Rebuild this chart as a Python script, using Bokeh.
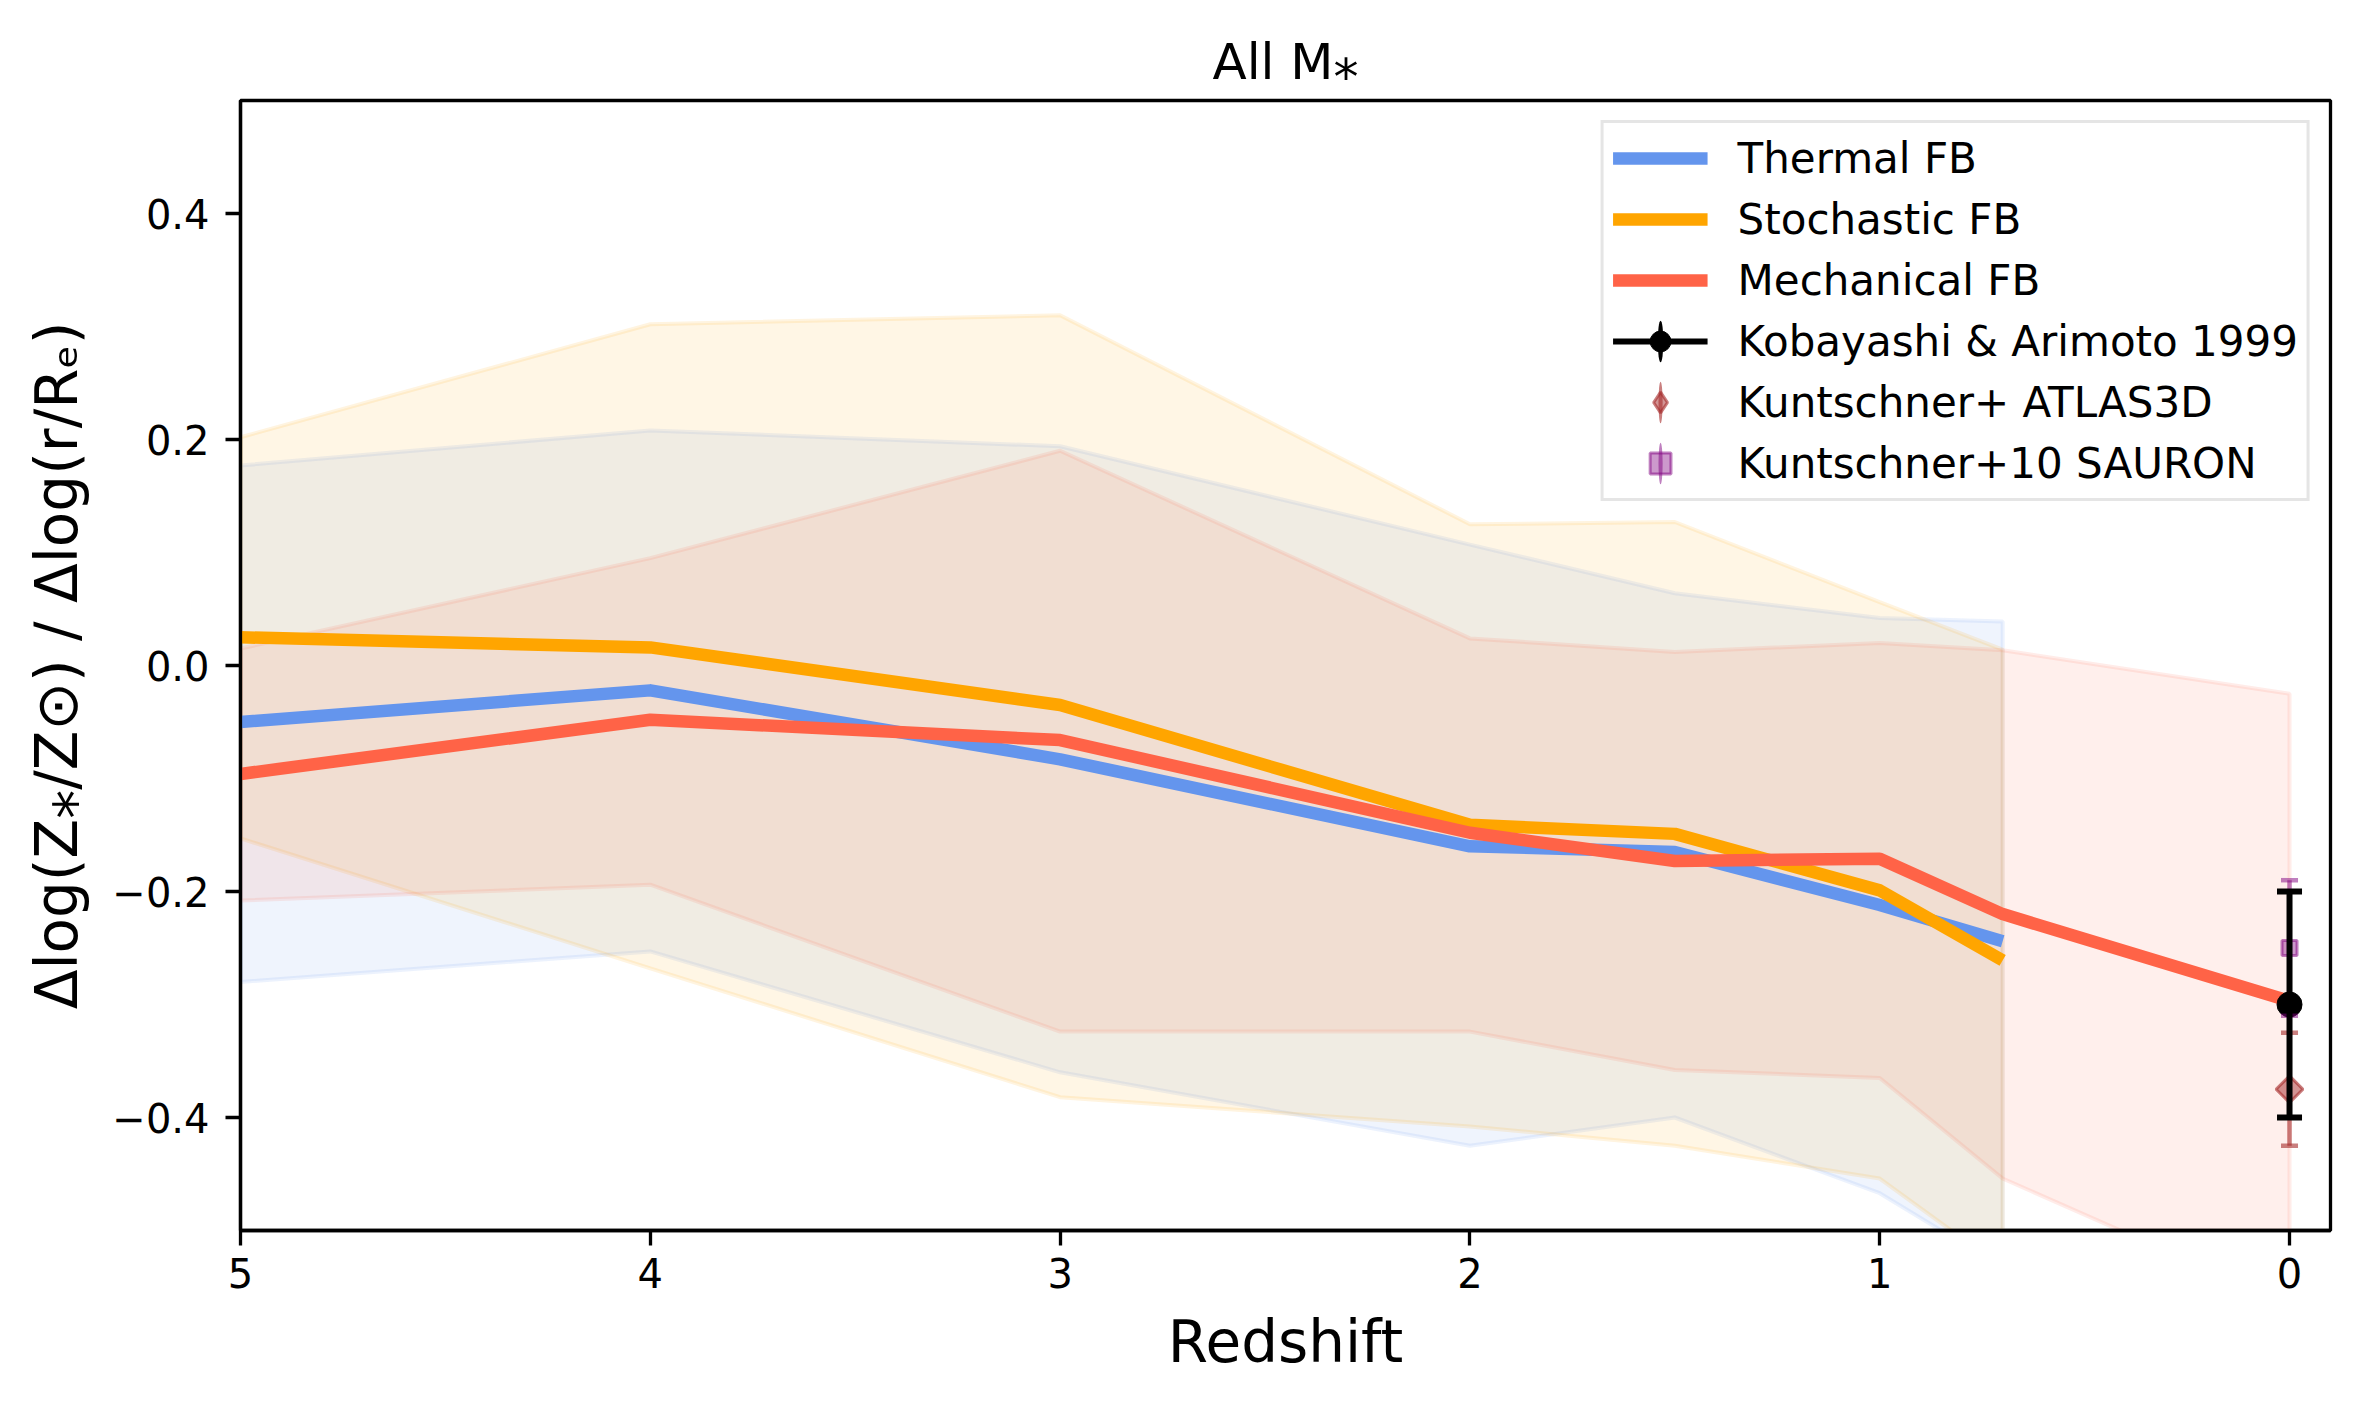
import math
import numpy as np
from bokeh.plotting import figure
from bokeh.models import (Range1d, FixedTicker, CustomJSTickFormatter, Legend, LegendItem,
                          ColumnDataSource, Whisker, TeeHead)
from bokeh.embed import file_html
from bokeh.resources import INLINE

# ---------------- data ----------------
z_model = [5, 4, 3, 2, 1.5, 1, 0.7]
z_mech = [5, 4, 3, 2, 1.5, 1, 0.7, 0]

thermal = [-0.050, -0.022, -0.083, -0.160, -0.165, -0.212, -0.244]
thermal_hi = [0.177, 0.208, 0.194, 0.107, 0.064, 0.042, 0.039]
thermal_lo = [-0.280, -0.253, -0.360, -0.425, -0.400, -0.467, -0.533]

stochastic = [0.025, 0.016, -0.035, -0.141, -0.149, -0.199, -0.261]
stochastic_hi = [0.202, 0.302, 0.310, 0.125, 0.127, 0.056, 0.014]
stochastic_lo = [-0.153, -0.268, -0.382, -0.408, -0.425, -0.454, -0.533]

mechanical = [-0.096, -0.048, -0.066, -0.148, -0.173, -0.171, -0.220, -0.297]
mechanical_hi = [0.015, 0.095, 0.190, 0.024, 0.012, 0.020, 0.0135, -0.025]
mechanical_lo = [-0.208, -0.194, -0.324, -0.324, -0.358, -0.365, -0.454, -0.566]

ka_z = [0.0]
ka_val = [-0.30]
ka_err = [0.10]

atlas_z = [0.0]
atlas_val = [-0.375]
atlas_err = [0.05]

sauron_z = [0.0]
sauron_val = [-0.25]
sauron_err = [0.06]

x_ticks = [5, 4, 3, 2, 1, 0]
y_ticks = [-0.4, -0.2, 0.0, 0.2, 0.4]

BLUE = "#6495ED"    # cornflowerblue
ORANGE = "#FFA500"  # orange
RED = "#FF6347"     # tomato
BROWN = "#A52A2A"
PURPLE = "#800080"
FONT = "DejaVu Sans"

p = figure(width=2360, height=1405,
           x_range=Range1d(5, -0.1), y_range=Range1d(-0.5, 0.5),
           output_backend="svg", toolbar_location=None,
           title="All M\u204e",
           min_border_left=240, min_border_right=30,
           min_border_top=100, min_border_bottom=175)

p.background_fill_color = "white"
p.border_fill_color = "white"
p.outline_line_color = "black"
p.outline_line_width = 3.3
p.xgrid.visible = False
p.ygrid.visible = False

p.title.align = "center"
p.title.text_font = FONT
p.title.text_font_size = "50px"
p.title.text_font_style = "normal"
p.title.text_color = "black"
p.title.standoff = 19

for ax in (p.xaxis[0], p.yaxis[0]):
    ax.axis_line_width = 3.3
    ax.axis_line_color = "black"
    ax.major_tick_line_width = 3.3
    ax.major_tick_out = 15
    ax.major_tick_in = 0
    ax.minor_tick_out = 0
    ax.minor_tick_in = 0
    ax.major_label_text_font = FONT
    ax.major_label_text_font_size = "40px"
    ax.major_label_text_color = "black"
    ax.axis_label_text_font = FONT
    ax.axis_label_text_font_size = "58px"
    ax.axis_label_text_font_style = "normal"
    ax.axis_label_text_color = "black"

p.xaxis.ticker = FixedTicker(ticks=x_ticks)
p.yaxis.ticker = FixedTicker(ticks=y_ticks)
p.yaxis.formatter = CustomJSTickFormatter(
    code="return (tick < -1e-9 ? '\u2212' : '') + Math.abs(tick).toFixed(1);")
p.xaxis.major_label_standoff = 12
p.yaxis.major_label_standoff = 16
p.xaxis.axis_label = "Redshift"
p.yaxis.axis_label = "\u0394log(Z\u204e/Z\u2299) / \u0394log(r/R\u2091)"
p.xaxis.axis_label_standoff = 17
p.yaxis.axis_label_standoff = 18

# ---------------- shaded bands ----------------
def band(xs, lo, hi, color):
    xs = np.asarray(xs, dtype=float)
    px = np.concatenate([xs, xs[::-1]])
    py = np.concatenate([np.asarray(hi, float), np.asarray(lo, float)[::-1]])
    p.patch(px, py, fill_color=color, fill_alpha=0.1,
            line_color=color, line_alpha=0.12, line_width=4)

band(z_model, thermal_lo, thermal_hi, BLUE)
band(z_model, stochastic_lo, stochastic_hi, ORANGE)
band(z_mech, mechanical_lo, mechanical_hi, RED)

# ---------------- model lines ----------------
r_th = p.line(z_model, thermal, line_color=BLUE, line_width=12.5, line_join="round", line_cap="butt")
r_st = p.line(z_model, stochastic, line_color=ORANGE, line_width=12.5, line_join="round", line_cap="butt")
r_me = p.line(z_mech, mechanical, line_color=RED, line_width=12.5, line_join="round", line_cap="butt")

# ---------------- observations ----------------
def err_source(xs, vals, errs):
    v = np.asarray(vals, float)
    e = np.asarray(errs, float)
    return ColumnDataSource(dict(x=list(xs), y=list(v), upper=list(v + e), lower=list(v - e)))

ka_src = err_source(ka_z, ka_val, ka_err)
at_src = err_source(atlas_z, atlas_val, atlas_err)
sa_src = err_source(sauron_z, sauron_val, sauron_err)

def add_whisker(src, color, alpha, width, cap):
    w = Whisker(base="x", upper="upper", lower="lower", source=src, dimension="height",
                line_color=color, line_alpha=alpha, line_width=width, level="annotation",
                upper_head=TeeHead(size=cap, line_color=color, line_alpha=alpha, line_width=width),
                lower_head=TeeHead(size=cap, line_color=color, line_alpha=alpha, line_width=width))
    p.add_layout(w)

r_ka = p.scatter("x", "y", source=ka_src, marker="circle", size=25,
                 fill_color="black", line_color="black")
r_at = p.scatter("x", "y", source=at_src, marker="square", angle=math.pi / 4, size=19,
                 fill_color=BROWN, fill_alpha=0.5, line_color=BROWN, line_alpha=0.6, line_width=3)
r_sa = p.scatter("x", "y", source=sa_src, marker="square", size=15,
                 fill_color=PURPLE, fill_alpha=0.4, line_color=PURPLE, line_alpha=0.5, line_width=3)

add_whisker(at_src, BROWN, 0.6, 4.5, 17)
add_whisker(sa_src, PURPLE, 0.5, 4.5, 17)
add_whisker(ka_src, "black", 1.0, 6, 25)

# legend-only glyphs (no data points drawn)
nan_src = ColumnDataSource(dict(x=[float("nan")], y=[float("nan")]))
leg_ka_line = p.line("x", "y", source=nan_src, line_color="black", line_width=6)
leg_ka_bar = p.ellipse("x", "y", source=nan_src, width=6, height=45,
                       width_units="screen", height_units="screen",
                       fill_color="black", line_color=None)
leg_at_bar = p.ellipse("x", "y", source=nan_src, width=4.5, height=45,
                       width_units="screen", height_units="screen",
                       fill_color=BROWN, fill_alpha=0.6, line_color=None)
leg_at_mk = p.scatter("x", "y", source=nan_src, marker="diamond", size=20,
                      fill_color=BROWN, fill_alpha=0.5, line_color=BROWN, line_alpha=0.6, line_width=3)
leg_sa_bar = p.ellipse("x", "y", source=nan_src, width=4.5, height=45,
                       width_units="screen", height_units="screen",
                       fill_color=PURPLE, fill_alpha=0.5, line_color=None)

legend = Legend(items=[
    LegendItem(label="Thermal FB", renderers=[r_th]),
    LegendItem(label="Stochastic FB", renderers=[r_st]),
    LegendItem(label="Mechanical FB", renderers=[r_me]),
    LegendItem(label="Kobayashi & Arimoto 1999", renderers=[leg_ka_line, leg_ka_bar, r_ka]),
    LegendItem(label="Kuntschner+ ATLAS3D", renderers=[leg_at_bar, leg_at_mk]),
    LegendItem(label="Kuntschner+10 SAURON", renderers=[leg_sa_bar, r_sa]),
])
legend.location = "top_right"
legend.margin = 20
legend.padding = 9
legend.spacing = 9
legend.glyph_width = 95
legend.glyph_height = 52
legend.label_height = 52
legend.label_standoff = 30
legend.label_text_font = FONT
legend.label_text_font_size = "42px"
legend.label_text_color = "black"
legend.border_line_color = "#cccccc"
legend.border_line_width = 3.3
legend.background_fill_color = "white"
legend.background_fill_alpha = 0.8
p.add_layout(legend)

open("out.html", "w").write(file_html(p, INLINE))
